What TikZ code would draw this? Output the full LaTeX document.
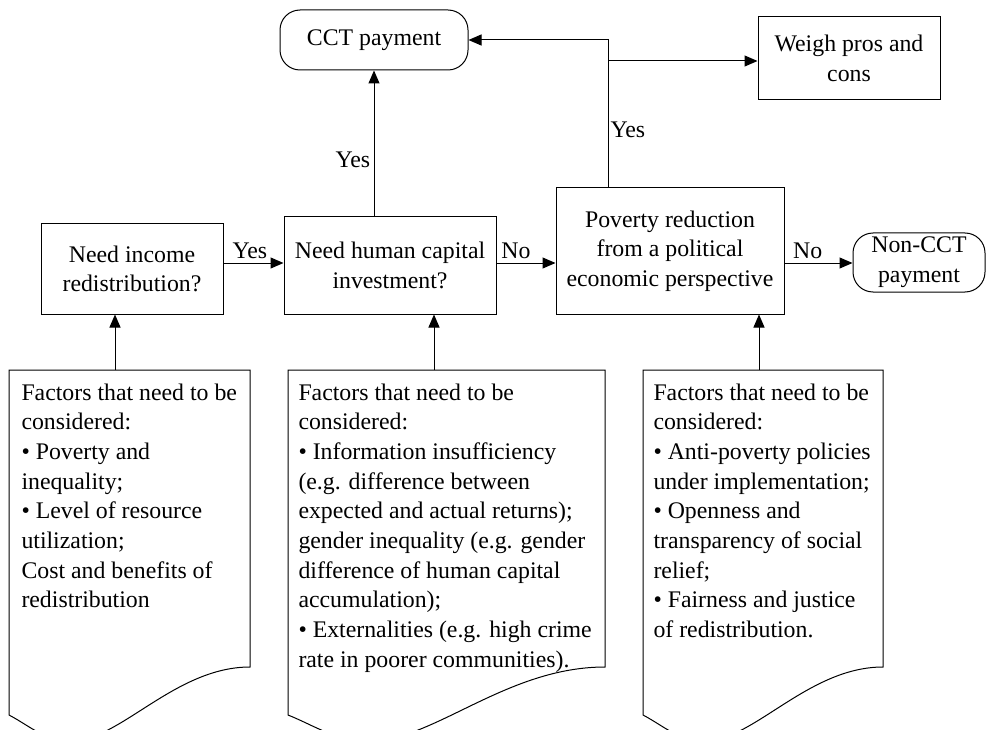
\documentclass[tikz,border=0pt]{standalone}
\usepackage{fontspec}
\setmainfont{Liberation Serif}
\usetikzlibrary{arrows.meta}

\newcommand\docshape[2]{%
  \draw (#1,370) -- (#2,370) -- (#2,667)
    .. controls ({#1+.689*(#2-#1)},667) and ({#1+.46*(#2-#1)},741) .. ({#1+.257*(#2-#1)},741)
    .. controls ({#1+.149*(#2-#1)},741) and ({#1+.087*(#2-#1)},726) .. (#1,715) -- cycle;}

\begin{document}
\begin{tikzpicture}[x=1pt,y=-1pt,line width=1pt,
    every node/.style={font=\fontsize{23.8}{29.7}\selectfont},
    box/.style={draw,rectangle,align=center,inner sep=0pt},
    term/.style={draw,rounded corners=20pt,align=center,inner sep=0pt},
    factors/.style={anchor=north west,align=left,inner sep=0pt},
    arr/.style={-{Triangle[length=13pt,width=11pt]}}]
    \useasboundingbox (0,0) rectangle (988,730);
    \clip (0,0) rectangle (988,730);

    \node[term,minimum width=188pt,minimum height=60pt] (cct) at (374,40) {CCT payment};
    \node[box,minimum width=182pt,minimum height=83pt] (weigh) at (849,58.5) {Weigh pros and\\cons};
    \node[box,minimum width=182pt,minimum height=90pt] (income) at (132,269) {Need income\\redistribution?};
    \node[box,minimum width=212pt,minimum height=97pt] (human) at (390,265.5) {Need human capital\\investment?};
    \node[box,minimum width=228pt,minimum height=126pt] (poverty) at (670,251) {Poverty reduction\\from a political\\economic perspective};
    \node[term,minimum width=132pt,minimum height=59pt] (noncct) at (919,262.5) {Non-CCT\\payment};

    \coordinate (row) at (0,263);
    \coordinate (turn) at (608,40);
    \coordinate (split) at (608,61);
    \draw[arr] (income.east |- row) -- node[above,pos=.44] {Yes} (human.west |- row);
    \draw[arr] (human.east |- row) -- node[above,pos=.33] {No} (poverty.west |- row);
    \draw[arr] (poverty.east |- row) -- node[above,pos=.34] {No} (noncct.west |- row);
    \draw[arr] (human.north -| cct) -- node[left,pos=.39] {Yes} (cct.south);
    \draw[arr] (poverty.north -| turn) -- node[right,pos=.39,inner sep=2pt] {Yes} (turn) -- (cct.east);
    \draw[arr] (split) -- (weigh.west |- split);

    \docshape{9}{250}
    \docshape{288}{605}
    \docshape{643}{883}
    \node[factors] (fac1) at (21,383) {Factors that need to be\\considered:\\• Poverty and\\inequality;\\• Level of resource\\utilization;\\Cost and benefits of\\redistribution};
    \node[factors] (fac2) at (298,383) {Factors that need to be\\considered:\\• Information insufficiency\\(e.g. difference between\\expected and actual returns);\\gender inequality (e.g. gender\\difference of human capital\\accumulation);\\• Externalities (e.g. high crime\\rate in poorer communities).};
    \node[factors] (fac3) at (653,383) {Factors that need to be\\considered:\\• Anti-poverty policies\\under implementation;\\• Openness and\\transparency of social\\relief;\\• Fairness and justice\\of redistribution.};

    \coordinate (in1) at (115,370);
    \coordinate (in2) at (434,370);
    \coordinate (in3) at (759,370);
    \draw[arr] (in1) -- (income.south -| in1);
    \draw[arr] (in2) -- (human.south -| in2);
    \draw[arr] (in3) -- (poverty.south -| in3);
\end{tikzpicture}
\end{document}
